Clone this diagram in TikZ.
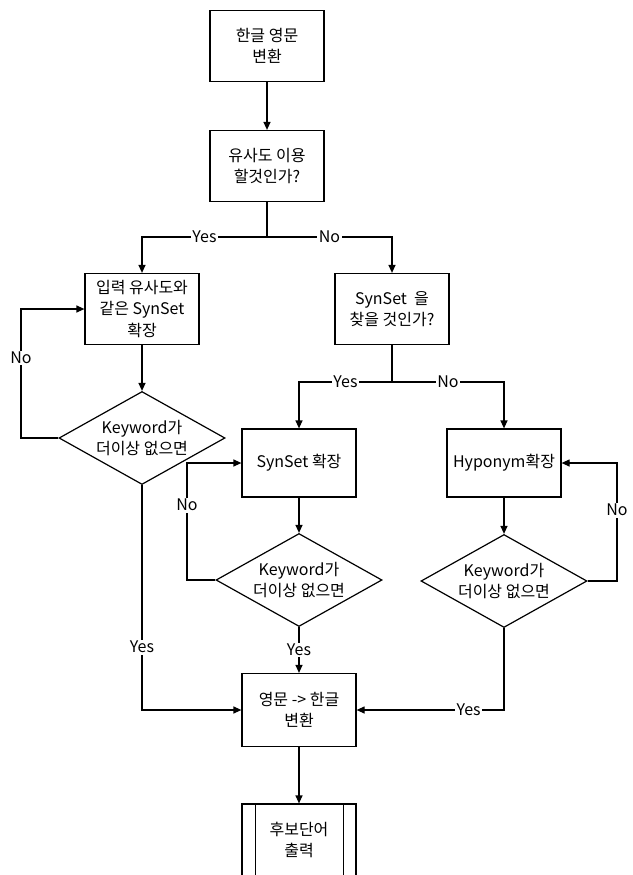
\documentclass[tikz,border=0pt]{standalone}
\usepackage{fontspec}
\setmainfont{Noto Sans CJK KR}
\usetikzlibrary{shapes.geometric,arrows.meta}
\begin{document}
\begin{tikzpicture}[x=1pt,y=-1pt,
  every node/.style={font=\fontsize{16}{21.5}\selectfont},
  proc/.style={rectangle,draw,line width=1.2pt,align=center,minimum width=114pt,minimum height=71pt,inner sep=2pt},
  cond/.style={diamond,draw,line width=1.2pt,align=center,aspect=1.8,inner sep=0pt,minimum width=166pt,minimum height=93pt},
  link/.style={line width=1.2pt,-{Triangle[length=8pt,width=7pt]}},
  wire/.style={line width=1.2pt},
  ans/.style={fill=white,inner sep=1.5pt}]
\useasboundingbox (0,0) rectangle (632,875);
\clip (0,0) rectangle (632,875);
\node [proc] (hanEng) at (267,46) {한글 영문\\변환};
\node [proc] (useSim) at (267,166) {유사도 이용\\할것인가?};
\node [proc] (simSyn) at (142,309) {입력 유사도와\\같은 SynSet\\확장};
\node [proc] (findSyn) at (392,309) {SynSet\ \ 을\\찾을 것인가?};
\node [cond] (kwA) at (142,438) {Keyword가\\더이상 없으면};
\node [proc,minimum height=68pt] (synExp) at (299,463) {SynSet 확장};
\node [proc,minimum height=68pt] (hypExp) at (504,463) {Hyponym확장};
\node [cond] (kwB) at (299,580) {Keyword가\\더이상 없으면};
\node [cond] (kwC) at (504,581) {Keyword가\\더이상 없으면};
\node [proc,minimum height=73pt] (engHan) at (299,710) {영문 -> 한글\\변환};
\node [proc,minimum height=72pt] (out) at (299,840) {후보단어\\출력};
\draw [wire] ([xshift=14pt]out.north west) -- ([xshift=14pt]out.south west);
\draw [wire] ([xshift=-13pt]out.north east) -- ([xshift=-13pt]out.south east);
\coordinate (splitA) at (267,237);
\coordinate (splitB) at (392,382);
\coordinate (loopA) at (21,0);
\coordinate (loopB) at (187,0);
\coordinate (loopC) at (617,0);
\draw [link] (hanEng) -- (useSim);
\draw [wire] (useSim.south) -- (splitA);
\draw [link] (splitA) -| node[ans,pos=0.25]{Yes} (simSyn.north);
\draw [link] (splitA) -| node[ans,pos=0.25]{No} (findSyn.north);
\draw [link] (simSyn) -- (kwA);
\draw [link] (kwA.west) -- (loopA |- kwA.west) |- node[ans,pos=0.31]{No} (simSyn.west);
\draw [link] (kwA.south) |- node[ans,pos=0.36]{Yes} (engHan.west);
\draw [wire] (findSyn.south) -- (splitB);
\draw [link] (splitB) -| node[ans,pos=0.25]{Yes} (synExp.north);
\draw [link] (splitB) -| node[ans,pos=0.25]{No} (hypExp.north);
\draw [link] (synExp) -- (kwB);
\draw [link] (hypExp) -- (kwC);
\draw [link] (kwB.west) -- (loopB |- kwB.west) |- node[ans,pos=0.32]{No} (synExp.west);
\draw [link] (kwC.east) -- (loopC |- kwC.east) |- node[ans,pos=0.3]{No} (hypExp.east);
\draw [link] (kwB) -- node[ans]{Yes} (engHan);
\draw [link] (kwC.south) |- node[ans,pos=0.62]{Yes} (engHan.east);
\draw [link] (engHan) -- (out);
\end{tikzpicture}
\end{document}
